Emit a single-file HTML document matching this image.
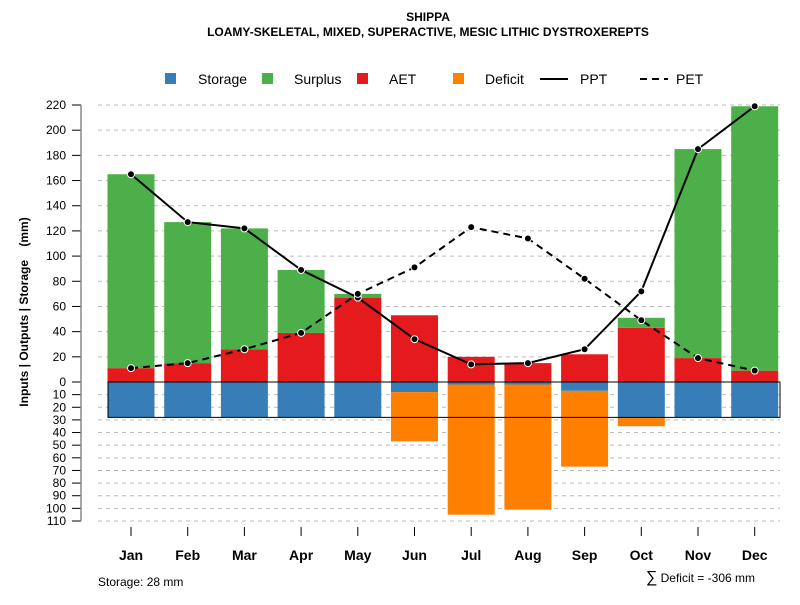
<!DOCTYPE html>
<html><head><meta charset="utf-8"><style>
body{margin:0;background:#fff}
svg{font-family:"Liberation Sans",sans-serif}
</style></head><body>
<svg id="c" width="800" height="600" xmlns="http://www.w3.org/2000/svg">
<text x="428" y="21" text-anchor="middle" font-size="12" font-weight="bold">SHIPPA</text>
<text x="428" y="36" text-anchor="middle" font-size="12" font-weight="bold">LOAMY-SKELETAL, MIXED, SUPERACTIVE, MESIC LITHIC DYSTROXEREPTS</text>
<g>
<rect x="165" y="73" width="11" height="11" fill="#377eb8"/>
<text x="198" y="84" font-size="14">Storage</text>
<rect x="262" y="73" width="11" height="11" fill="#4daf4a"/>
<text x="294" y="84" font-size="14">Surplus</text>
<rect x="357" y="73" width="11" height="11" fill="#e41a1c"/>
<text x="389" y="84" font-size="14">AET</text>
<rect x="453" y="73" width="11" height="11" fill="#ff7f00"/>
<text x="485" y="84" font-size="14">Deficit</text>
<line x1="540" y1="79" x2="568" y2="79" stroke="#000" stroke-width="2"/>
<text x="580" y="84" font-size="14">PPT</text>
<line x1="640" y1="79" x2="668" y2="79" stroke="#000" stroke-width="2" stroke-dasharray="7,5"/>
<text x="676" y="84" font-size="14">PET</text>
</g>
<text transform="translate(28,312) rotate(-90)" text-anchor="middle" font-size="12" font-weight="bold">Inputs | Outputs | Storage&#160;&#160;&#160;&#160;(mm)</text>
<text x="98" y="586" font-size="12">Storage: 28 mm</text>
<text x="755" y="582" text-anchor="end" font-size="12"><tspan font-size="16">∑</tspan> Deficit = -306 mm</text>
<g id="grid"></g><g id="bars"></g><g id="axes"></g><g id="lines"></g>
</svg>
<script>
const months=["Jan","Feb","Mar","Apr","May","Jun","Jul","Aug","Sep","Oct","Nov","Dec"];
const ppt=[165,127,122,89,67,34,14,15,26,72,185,219];
const pet=[11,15,26,39,70,91,123,114,82,49,19,9];
const aet=[11,15,26,39,67,53,20,15,22,43,19,9];
const surplus=[154,112,96,50,3,0,0,0,0,8,166,210];
const storage=[28,28,28,28,28,8,2,2,7,28,28,28];
const deficit=[0,0,0,0,0,39,103,99,60,7,0,0];
const upTicks=[0,20,40,60,80,100,120,140,160,180,200,220];
const downTicks=[10,20,30,40,50,60,70,80,90,100,110];
const capacity=28;
const NS="http://www.w3.org/2000/svg";
const y0=382, kUp=277/220, kDn=139/110;
const yUp=v=>y0-v*kUp, yDn=v=>y0+v*kDn;
const xc=i=>131+i*56.7, bw=47;
function mk(t,a,p){const e=document.createElementNS(NS,t);for(const k in a)e.setAttribute(k,a[k]);document.getElementById(p).appendChild(e);return e;}
upTicks.concat(downTicks.map(v=>-v)).forEach(v=>{
 const y=v>=0?yUp(v):yDn(-v);
 if(v!==0){const g=mk("line",{x1:98,x2:780,y1:y,y2:y,stroke:"#bbb","stroke-dasharray":"4,4"},"grid");
 
 }
 const t=mk("line",{x1:72,x2:81,y1:y,y2:y,stroke:"#000"},"axes");
 
 
 const l=mk("text",{x:66,y:y+4,"text-anchor":"end","font-size":12},"axes");
 l.textContent=Math.abs(v);
 
 
});
const ax=mk("line",{x1:81,x2:81,y1:yUp(220),y2:yDn(110),stroke:"#888","stroke-width":1.5},"axes");


months.forEach((m,i)=>{
 const x=xc(i)-bw/2;
 const r1=mk("rect",{x:x,y:yUp(aet[i]),width:bw,height:aet[i]*kUp,fill:"#e41a1c"},"bars");
 
 
 if(surplus[i]>0){const r2=mk("rect",{x:x,y:yUp(aet[i]+surplus[i]),width:bw,height:surplus[i]*kUp,fill:"#4daf4a"},"bars");
 
 }
 const r3=mk("rect",{x:x,y:y0,width:bw,height:storage[i]*kDn,fill:"#377eb8"},"bars");
 
 
 if(deficit[i]>0){const r4=mk("rect",{x:x,y:yDn(storage[i]),width:bw,height:deficit[i]*kDn,fill:"#ff7f00"},"bars");
 
 }
 const t=mk("line",{x1:xc(i),x2:xc(i),y1:527,y2:536,stroke:"#000"},"axes");
 
 
 const l=mk("text",{x:xc(i),y:560,"text-anchor":"middle","font-size":14,"font-weight":"bold"},"axes");
 l.textContent=m;
 
 
});
const box=mk("rect",{x:108,y:y0,width:672,height:capacity*kDn,fill:"none",stroke:"#000"},"bars");


[[ppt,"","ppt"],[pet,"7,5","pet"]].forEach(([d,da,n])=>{
 const p=mk("polyline",{points:d.map((v,i)=>xc(i)+","+yUp(v)).join(" "),fill:"none",stroke:"#000","stroke-width":2,"stroke-dasharray":da},"lines");
 
 
 d.forEach((v,i)=>{const c=mk("circle",{cx:xc(i),cy:yUp(v),r:3.5,fill:"#000",stroke:"#fff","stroke-width":1},"lines");
 
 });
});
</script>
</body></html>
